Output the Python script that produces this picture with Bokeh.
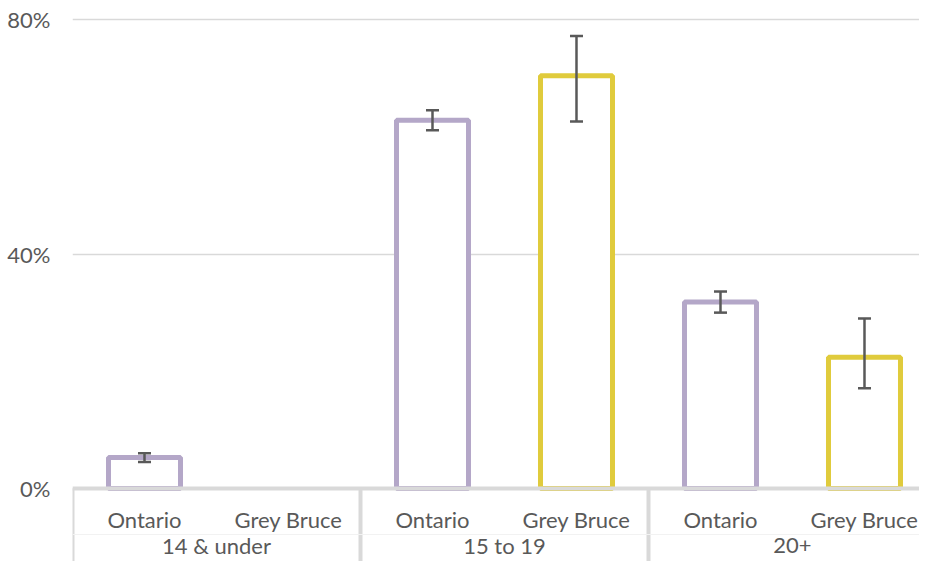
from bokeh.plotting import figure
from bokeh.models import (Range1d, LinearAxis, FixedTicker, Grid, ColumnDataSource,
                          Whisker, TeeHead, PrintfTickFormatter, Span)
from bokeh.core.properties import value
from bokeh.embed import file_html
from bokeh.resources import INLINE

groups = ["14 & under", "15 to 19", "20+"]
regions = ["Ontario", "Grey Bruce"]
ontario = [5.3, 62.8, 31.8]
ontario_low = [4.5, 61.1, 30.0]
ontario_high = [6.0, 64.5, 33.6]
grey_bruce = [None, 70.4, 22.4]
grey_bruce_low = [None, 62.6, 17.1]
grey_bruce_high = [None, 77.2, 29.0]
y_ticks = [0, 40, 80]

colors = {"Ontario": "#b4a7c8", "Grey Bruce": "#e0cb3c"}
FONT = "Lato"
TXT = "#595959"
GRID = "#d9d9d9"

series = {"Ontario": (ontario, ontario_low, ontario_high),
          "Grey Bruce": (grey_bruce, grey_bruce_low, grey_bruce_high)}

# layout (in axis units): frame spans the whole figure height
Y_TOP, Y_BOT = 83.241, -12.452
SUB_Y, GRP_Y, SEP_Y = -5.29, -9.72, -7.85

W, H = 919, 561
p = figure(width=W, height=H, x_range=Range1d(0, 11.764), y_range=Range1d(Y_BOT, Y_TOP),
           output_backend="svg", toolbar_location=None,
           min_border_left=72, min_border_right=0, min_border_top=0, min_border_bottom=0,
           x_axis_type=None, y_axis_type=None)
p.outline_line_color = None
p.background_fill_color = "white"
p.border_fill_color = "white"

p.add_layout(Grid(dimension=1, ticker=FixedTicker(ticks=y_ticks),
                  grid_line_color=GRID, grid_line_width=1.5))

for j, r in enumerate(regions):
    vals, lo, hi = series[r]
    xs, tops, los, his = [], [], [], []
    for i, g in enumerate(groups):
        if vals[i] is None:
            continue
        xs.append(4 * i + 2 * j + 1)
        tops.append(vals[i])
        los.append(lo[i])
        his.append(hi[i])
    src = ColumnDataSource(dict(x=xs, top=tops, lower=los, upper=his))
    p.vbar(x="x", top="top", bottom=0, width=1.0, source=src,
           fill_color="white", line_color=colors[r], line_width=5)
    p.add_layout(Whisker(source=src, base="x", upper="upper", lower="lower", level="overlay",
                         line_color=TXT, line_width=2.5,
                         upper_head=TeeHead(size=13, line_color=TXT, line_width=2.5),
                         lower_head=TeeHead(size=13, line_color=TXT, line_width=2.5)))

# category axis: baseline, separators, labels
p.add_layout(Span(location=0, dimension="width", line_color=GRID, line_width=4))
p.add_layout(Span(location=SEP_Y, dimension="width", line_color="#f2f2f2", line_width=1))
divs = [4 * i for i in range(len(groups))]
p.segment(x0=divs, y0=[0] * len(divs), x1=divs, y1=[Y_BOT] * len(divs),
          line_color=GRID, line_width=4)

sub_x = [4 * i + 2 * j + 1 for i in range(len(groups)) for j in range(len(regions))]
sub_text = [regions[j] for i in range(len(groups)) for j in range(len(regions))]
p.text(x=sub_x, y=[SUB_Y] * len(sub_x), text=sub_text,
       text_font=value(FONT), text_font_size="22px", text_color=TXT,
       text_align="center", text_baseline="alphabetic")
grp_x = [4 * i + 2 for i in range(len(groups))]
p.text(x=grp_x, y=[GRP_Y] * len(grp_x), text=groups,
       text_font=value(FONT), text_font_size="22px", text_color=TXT,
       text_align="center", text_baseline="alphabetic")

# y axis
yax = LinearAxis(ticker=FixedTicker(ticks=y_ticks), formatter=PrintfTickFormatter(format="%d%%"),
                 axis_line_color=None, major_tick_line_color=None, minor_tick_line_color=None,
                 major_tick_out=0, major_tick_in=0,
                 major_label_text_font=FONT, major_label_text_font_size="22px",
                 major_label_text_color=TXT, major_label_standoff=22)
p.add_layout(yax, "left")

open("out.html", "w").write(file_html(p, INLINE))
